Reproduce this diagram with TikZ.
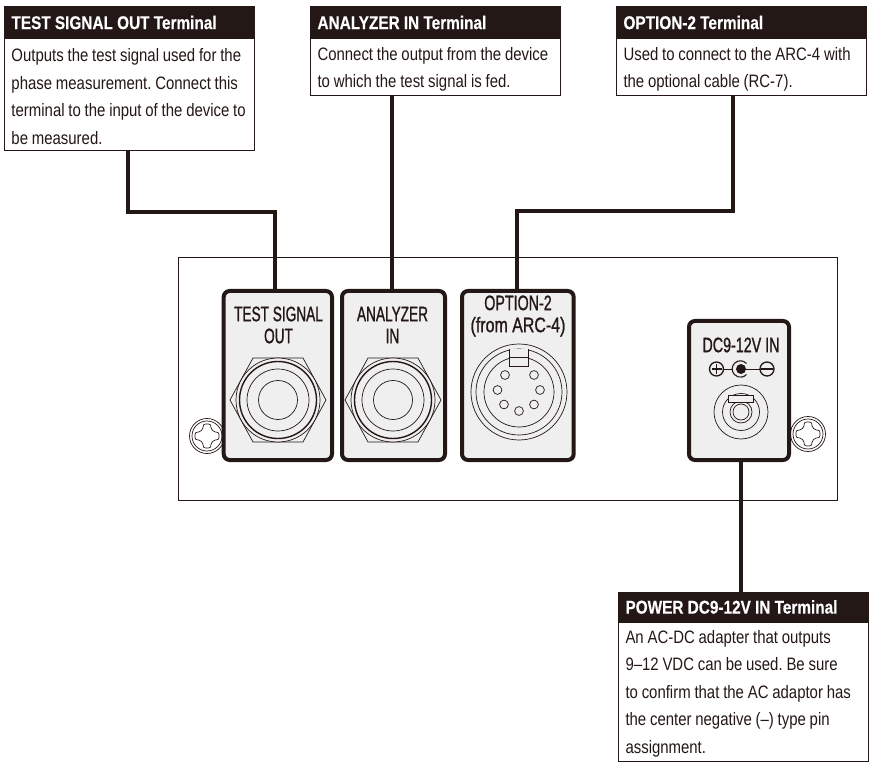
\documentclass[tikz,border=0pt]{standalone}
\usepackage{fontspec}
\setmainfont{Liberation Sans}
\newfontfamily\bodyfam[FakeStretch=0.83]{Liberation Sans}
\newfontfamily\headfam[FakeStretch=0.83,FakeBold=0.3]{Liberation Sans Bold}
\newfontfamily\labfam[FakeStretch=0.65,FakeBold=1]{Liberation Sans}
\newfontfamily\labmid[FakeStretch=0.68,FakeBold=1]{Liberation Sans}
\newfontfamily\labwide[FakeStretch=0.76,FakeBold=1]{Liberation Sans}
\let\primfont\font
\newcommand\headset{\headfam\fontsize{18.5}{20}\selectfont\frenchspacing\fontdimen2\primfont=4.2pt\relax}
\newcommand\bodyset{\bodyfam\fontsize{18}{27.5}\selectfont\frenchspacing\fontdimen2\primfont=3.8pt\relax}
\definecolor{ink}{HTML}{231815}
\definecolor{plate}{HTML}{EFEFEF}
\tikzset{
  headbox/.style={anchor=north west,fill=ink,draw=ink,line width=1pt,inner xsep=7pt,inner ysep=0pt,outer sep=0pt,
    text=white,font=\headset,text width=236pt,align=flush left,minimum height=#1},
  bodybox/.style={anchor=north west,fill=white,draw=ink,line width=1pt,inner xsep=7pt,inner ysep=0pt,outer sep=0pt,
    text=ink,font=\bodyset,text width=236pt,align=flush left,minimum height=#1,
    execute at begin node={\rule{0pt}{17.5pt}}},
  jackplate/.style={rounded corners=6pt,draw=ink,line width=4pt,fill=plate,inner sep=0pt,outer sep=0pt},
  wire/.style={draw=ink,line width=4pt},
  lab/.style={text=ink,font=\labfam\fontsize{21}{22}\selectfont,align=center,inner sep=0pt},
  thin line/.style={draw=ink,line width=.7pt},
  jacksym/.pic={
    \draw[thin line] (-48,0)--(-25,-42)--(25,-42)--(48,0)--(25,42)--(-25,42)--cycle;
    \draw[thin line,fill=plate] (0,0) circle (42);
    \draw[draw=ink,line width=1.4pt] (0,0) circle (38.5);
    \draw[thin line] (0,0) circle (31);
    \draw[thin line] (0,0) circle (19.5);
  },
  screwsym/.pic={
    \draw[draw=ink,line width=.7pt,fill=white] (0,0) circle (17.5);
    \draw[thin line] (0,0) circle (15);
    \draw[draw=ink,line width=.7pt,fill=white]
      (-3.5,-11) .. controls (-2,-12.5) and (2,-12.5) .. (3.5,-11)
      .. controls (4,-6) and (6,-4) .. (11,-3.5)
      .. controls (12.5,-2) and (12.5,2) .. (11,3.5)
      .. controls (6,4) and (4,6) .. (3.5,11)
      .. controls (2,12.5) and (-2,12.5) .. (-3.5,11)
      .. controls (-4,6) and (-6,4) .. (-11,3.5)
      .. controls (-12.5,2) and (-12.5,-2) .. (-11,-3.5)
      .. controls (-6,-4) and (-4,-6) .. (-3.5,-11) -- cycle;
  },
}
\begin{document}
\begin{tikzpicture}[x=1pt,y=-1pt]
\useasboundingbox (0,0) rectangle (873,767);
\fill[white] (0,0) rectangle (873,767);

% callout boxes
\node[headbox=32pt] (tsohead) at (4.5,6.5) {TEST SIGNAL OUT Terminal};
\node[bodybox=112pt] (tsobody) at (tsohead.south west) {Outputs the test signal used for the\\phase measurement. Connect this\\terminal to the input of the device to\\be measured.};
\node[headbox=32pt] (anahead) at (310.5,6.5) {ANALYZER IN Terminal};
\node[bodybox=57pt] (anabody) at (anahead.south west) {Connect the output from the device\\to which the test signal is fed.};
\node[headbox=32pt] (opthead) at (616.5,6.5) {OPTION-2 Terminal};
\node[bodybox=57pt] (optbody) at (opthead.south west) {Used to connect to the ARC-4 with\\the optional cable (RC-7).};
\node[headbox=30pt] (powhead) at (618.5,592) {POWER DC9-12V IN Terminal};
\node[bodybox=139pt] (powbody) at (powhead.south west) {An AC-DC adapter that outputs\\9–12 VDC can be used. Be sure\\to confirm that the AC adaptor has\\the center negative (–) type pin\\assignment.};

% front panel
\node[draw=ink,line width=.8pt,fill=white,minimum width=659pt,minimum height=243pt,anchor=north west,inner sep=0pt,outer sep=0pt] (panel) at (178,257) {};
\pic at (207,436) {screwsym};
\pic at (808,434) {screwsym};

% terminal plates
\node[jackplate,minimum width=108.3pt,minimum height=169pt] (jackone) at (277.85,375.5) {};
\node[jackplate,minimum width=103pt,minimum height=169pt] (jacktwo) at (393.5,375.5) {};
\node[jackplate,minimum width=111.7pt,minimum height=169pt] (din) at (517.85,375.5) {};
\node[jackplate,minimum width=100pt,minimum height=139pt] (dc) at (739,390.5) {};

% labels
\node[lab] (labone) at (278.5,325) {TEST SIGNAL\\OUT};
\node[lab] (labtwo) at (392.5,325) {ANALYZER\\IN};
\node[lab] (labthree) at (518,316) {{\labmid OPTION-2}\\{\labwide (from ARC-4)}};
\node[lab,font=\labmid\fontsize{21}{22}\selectfont] (labfour) at (741,345) {DC9-12V IN};

% phone jacks
\pic at (278,400) {jacksym};
\pic at (393,400) {jacksym};

% DIN socket
\coordinate (dinc) at (519,392);
\draw[thin line] (dinc) circle (48);
\draw[thin line] (dinc) circle (43);
\draw[thin line,fill=plate] (dinc) circle (35);
\draw[thin line,fill=plate] (509.5,349.5) -- (509.5,366) -- (528,366) -- (528,349.5);
\draw[thin line] (509.5,357.5) -- (528,357.5);
\foreach \px/\py in {505/375,534/375,497.5/390,540/390,504/404.5,534/404.5,519/411}
  \draw[draw=ink,line width=.7pt] (\px,\py) circle (4.4);

% polarity symbols
\draw[draw=ink,line width=1.3pt] (716.5,369) circle (7);
\draw[draw=ink,line width=1.3pt] (711.5,369) -- (721.5,369) (716.5,364) -- (716.5,374);
\draw[draw=ink,line width=1pt] (723.5,369) -- (733,369);
\draw[draw=ink,line width=1.1pt] (746.5,363.5) arc[start angle=-42,end angle=-318,radius=8.2];
\fill[ink] (741,369) circle (5);
\draw[draw=ink,line width=1pt] (741,369) -- (760,369);
\draw[draw=ink,line width=1.3pt] (767,369) circle (7);
\draw[draw=ink,line width=2.6pt] (761,369) -- (773,369);

% DC socket
\coordinate (dcc) at (741,412);
\draw[thin line] (dcc) circle (27);
\draw[thin line] (dcc) circle (18.5);
\draw[thin line] (dcc) circle (11);
\draw[thin line] (dcc) circle (8);
\draw[thin line,fill=plate] (728.5,395) rectangle (753,402.5);

% connectors
\coordinate (wiretwo) at ([xshift=-1.5pt]jacktwo.north);
\coordinate (wirefour) at ([xshift=2pt]dc.south);
\draw[wire] ([xshift=-1.5pt]tsobody.south) -- ++(0,62) -| ([xshift=-3pt]jackone.north);
\draw[wire] (wiretwo |- anabody.south) -- (wiretwo);
\draw[wire] ([xshift=-9pt]optbody.south) -- ++(0,116) -| ([xshift=-1pt]din.north);
\draw[wire] (wirefour) -- (wirefour |- powhead.north);
\end{tikzpicture}
\end{document}
